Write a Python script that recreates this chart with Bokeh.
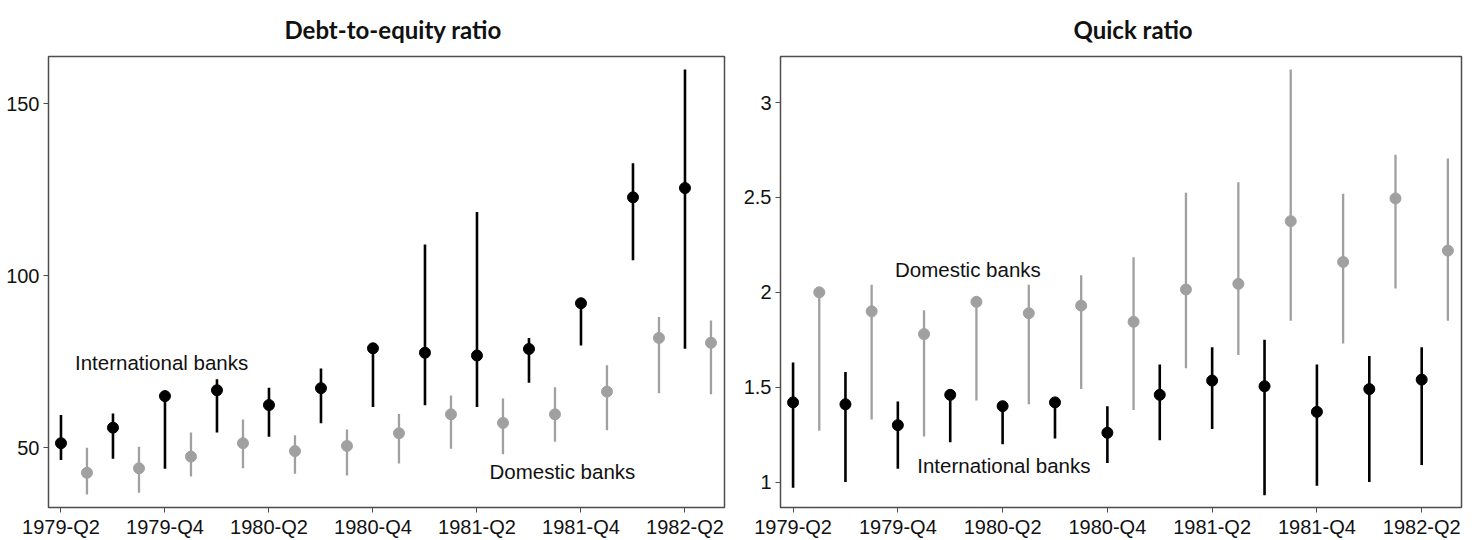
from bokeh.plotting import figure
from bokeh.layouts import row
from bokeh.models import ColumnDataSource, Label, FixedTicker, NumeralTickFormatter
from bokeh.embed import file_html
from bokeh.resources import INLINE

quarters = ["1979-Q2", "1979-Q3", "1979-Q4", "1980-Q1", "1980-Q2", "1980-Q3", "1980-Q4",
            "1981-Q1", "1981-Q2", "1981-Q3", "1981-Q4", "1982-Q1", "1982-Q2"]

# Debt-to-equity ratio
de_intl_mid = [51.3, 55.8, 65.0, 66.7, 62.4, 67.3, 78.9, 77.6, 76.8, 78.7, 92.0, 122.8, 125.5]
de_intl_lo = [46.4, 46.8, 43.9, 54.4, 53.2, 57.1, 61.8, 62.3, 61.8, 68.9, 79.7, 104.5, 78.8]
de_intl_hi = [59.5, 59.9, 65.5, 69.9, 67.4, 73.0, 79.5, 109.1, 118.5, 81.9, 92.5, 132.7, 160.0]
de_dom_mid = [42.7, 44.0, 47.4, 51.3, 49.0, 50.5, 54.2, 59.7, 57.2, 59.7, 66.3, 81.9, 80.5]
de_dom_lo = [36.4, 36.9, 41.6, 44.0, 42.4, 41.9, 45.4, 49.7, 48.1, 51.7, 55.1, 65.8, 65.5]
de_dom_hi = [50.0, 50.3, 54.4, 58.2, 53.6, 55.3, 59.8, 65.2, 64.3, 67.6, 74.0, 88.0, 87.0]

# Quick ratio
qr_intl_mid = [1.42, 1.41, 1.30, 1.46, 1.40, 1.42, 1.26, 1.46, 1.535, 1.505, 1.37, 1.49, 1.54]
qr_intl_lo = [0.97, 1.00, 1.07, 1.21, 1.20, 1.23, 1.10, 1.22, 1.28, 0.93, 0.98, 1.00, 1.09]
qr_intl_hi = [1.63, 1.58, 1.425, 1.47, 1.41, 1.43, 1.40, 1.62, 1.71, 1.75, 1.62, 1.665, 1.71]
qr_dom_mid = [2.00, 1.90, 1.78, 1.95, 1.89, 1.93, 1.845, 2.015, 2.045, 2.375, 2.16, 2.495, 2.22]
qr_dom_lo = [1.27, 1.33, 1.24, 1.43, 1.41, 1.49, 1.38, 1.60, 1.67, 1.85, 1.73, 2.02, 1.85]
qr_dom_hi = [2.01, 2.04, 1.905, 1.96, 2.04, 2.09, 2.185, 2.525, 2.58, 3.175, 2.52, 2.725, 2.705]

BLACK = "#000000"
GREY = "#a0a0a0"
FRAME = "#4d4d4d"
FONT = "Liberation Sans"

def make_panel(title, title_offset, intl, dom, y_range, y_ticks, labels, fmt, mb_left, mb_right, fw):
    p = figure(title=title, output_backend="svg", toolbar_location=None,
               frame_width=fw, frame_height=451,
               min_border_left=mb_left, min_border_right=mb_right,
               min_border_top=56, min_border_bottom=28,
               x_range=(-0.24, 12.76), y_range=y_range)
    xs = list(range(len(quarters)))
    xg = [x + 0.5 for x in xs]
    mid, lo, hi = dom
    src_d = ColumnDataSource(dict(x=xg, mid=mid, lo=lo, hi=hi))
    p.segment(x0="x", y0="lo", x1="x", y1="hi", source=src_d, line_color=GREY, line_width=2.3)
    p.scatter(x="x", y="mid", source=src_d, size=11, fill_color=GREY, line_color=GREY)
    mid, lo, hi = intl
    src_i = ColumnDataSource(dict(x=xs, mid=mid, lo=lo, hi=hi))
    p.segment(x0="x", y0="lo", x1="x", y1="hi", source=src_i, line_color=BLACK, line_width=2.6)
    p.scatter(x="x", y="mid", source=src_i, size=11, fill_color=BLACK, line_color=BLACK)

    for (txt, x, y) in labels:
        p.add_layout(Label(x=x, y=y, text=txt, text_font=FONT, text_font_size="20.5px",
                           text_baseline="middle", text_align="left", text_color="#111111"))

    p.title.align = "left"
    p.title.offset = title_offset
    p.title.standoff = 25
    p.title.text_font = "Lato"
    p.title.text_font_style = "bold"
    p.title.text_font_size = "24px"
    p.title.text_color = "#111111"

    p.grid.visible = False
    p.outline_line_color = FRAME
    p.outline_line_width = 1.5
    p.xaxis.ticker = FixedTicker(ticks=list(range(0, 13, 2)))
    p.xaxis.major_label_overrides = {i: quarters[i] for i in range(0, 13, 2)}
    p.yaxis.ticker = FixedTicker(ticks=y_ticks)
    p.yaxis.formatter = NumeralTickFormatter(format=fmt)
    for ax in (p.xaxis, p.yaxis):
        ax.axis_line_color = None
        ax.major_tick_line_color = FRAME
        ax.major_tick_line_width = 1
        ax.major_tick_out = 5
        ax.major_tick_in = 0
        ax.minor_tick_line_color = None
        ax.major_label_text_font = FONT
        ax.major_label_text_font_size = "20px"
        ax.major_label_text_color = "#111111"
    p.xaxis.major_label_standoff = 3
    p.yaxis.major_label_standoff = 4
    p.background_fill_color = "white"
    p.border_fill_color = "white"
    return p

p1 = make_panel("Debt-to-equity ratio", 236,
                (de_intl_mid, de_intl_lo, de_intl_hi),
                (de_dom_mid, de_dom_lo, de_dom_hi),
                (32.6, 163.75), [50, 100, 150],
                [("International banks", 0.27, 74.9), ("Domestic banks", 8.24, 43.0)],
                "0", 48, 13, 676)
p2 = make_panel("Quick ratio", 293,
                (qr_intl_mid, qr_intl_lo, qr_intl_hi),
                (qr_dom_mid, qr_dom_lo, qr_dom_hi),
                (0.866, 3.243), [1, 1.5, 2, 2.5, 3],
                [("Domestic banks", 1.945, 2.12), ("International banks", 2.37, 1.088)],
                "0.[0]", 43, 5, 681)

layout = row(p1, p2)
open("out.html", "w").write(file_html(layout, INLINE))
